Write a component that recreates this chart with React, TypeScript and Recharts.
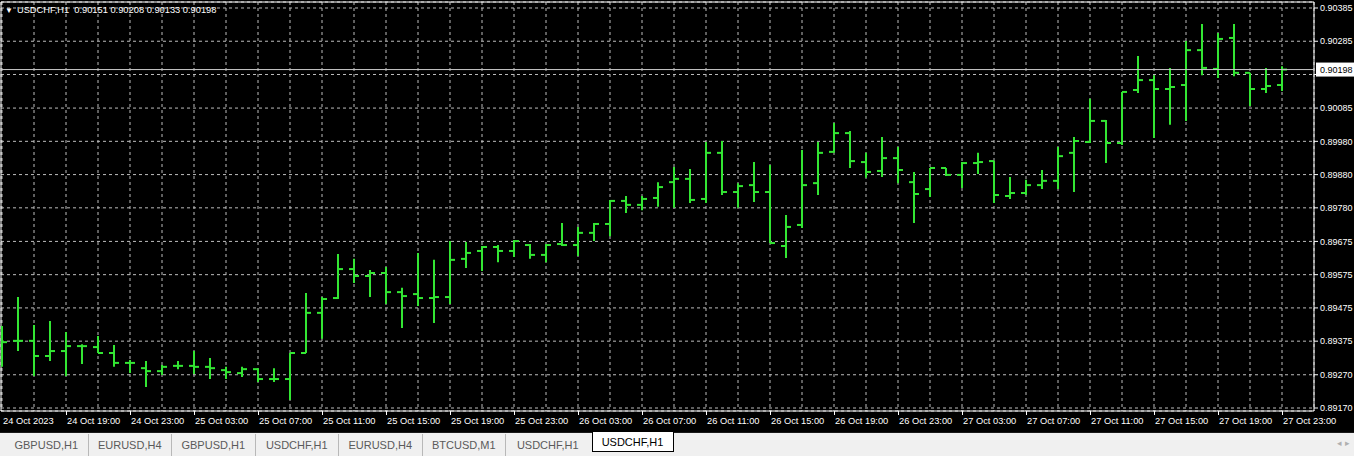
import React from 'react';
import { ComposedChart, Bar, XAxis, YAxis, CartesianGrid, ReferenceLine, ReferenceArea } from 'recharts';

// USDCHF H1, 24 Oct 15:00 .. 27 Oct 23:00 (one entry per hourly bar)
const opens = [
  0.89370, 0.89374, 0.89374, 0.89328, 0.89343, 0.89358, 0.89355, 0.89337, 0.89307, 0.89291,
  0.89282, 0.89298, 0.89298, 0.89295, 0.89285, 0.89276, 0.89288, 0.89258, 0.89258, 0.89337,
  0.89459, 0.89504, 0.89592, 0.89571, 0.89580, 0.89522, 0.89516, 0.89504, 0.89507, 0.89623,
  0.89647, 0.89659, 0.89647, 0.89665, 0.89635, 0.89668, 0.89665, 0.89702, 0.89729, 0.89799,
  0.89787, 0.89808, 0.89856, 0.89866, 0.89805, 0.89945, 0.89826, 0.89847, 0.89826, 0.89662,
  0.89726, 0.89853, 0.89948, 0.90005, 0.89917, 0.89890, 0.89929, 0.89856, 0.89835, 0.89899,
  0.89878, 0.89914, 0.89920, 0.89814, 0.89823, 0.89847, 0.89860, 0.89945, 0.89978, 0.90042,
  0.89975, 0.90136, 0.90166, 0.90139, 0.90151, 0.90257, 0.90200, 0.90294, 0.90188, 0.90139,
  0.90151,
];
const highs = [
  0.89419, 0.89507, 0.89422, 0.89434, 0.89401, 0.89364, 0.89389, 0.89361, 0.89316, 0.89313,
  0.89301, 0.89313, 0.89343, 0.89322, 0.89295, 0.89295, 0.89291, 0.89291, 0.89337, 0.89519,
  0.89507, 0.89638, 0.89623, 0.89589, 0.89598, 0.89535, 0.89641, 0.89620, 0.89677, 0.89674,
  0.89662, 0.89665, 0.89680, 0.89668, 0.89668, 0.89732, 0.89720, 0.89732, 0.89802, 0.89814,
  0.89814, 0.89856, 0.89902, 0.89896, 0.89978, 0.89981, 0.89853, 0.89917, 0.89908, 0.89756,
  0.89954, 0.89978, 0.90036, 0.90011, 0.89945, 0.89993, 0.89963, 0.89887, 0.89899, 0.89899,
  0.89917, 0.89945, 0.89920, 0.89872, 0.89863, 0.89893, 0.89963, 0.89993, 0.90109, 0.90045,
  0.90130, 0.90239, 0.90181, 0.90203, 0.90285, 0.90336, 0.90309, 0.90336, 0.90188, 0.90203,
  0.90208,
];
const lows = [
  0.89295, 0.89343, 0.89267, 0.89313, 0.89267, 0.89304, 0.89337, 0.89295, 0.89276, 0.89234,
  0.89270, 0.89288, 0.89273, 0.89258, 0.89258, 0.89264, 0.89249, 0.89249, 0.89194, 0.89337,
  0.89380, 0.89501, 0.89550, 0.89507, 0.89486, 0.89413, 0.89480, 0.89428, 0.89486, 0.89595,
  0.89586, 0.89613, 0.89629, 0.89623, 0.89613, 0.89662, 0.89632, 0.89677, 0.89692, 0.89762,
  0.89771, 0.89781, 0.89778, 0.89793, 0.89793, 0.89817, 0.89778, 0.89796, 0.89671, 0.89626,
  0.89717, 0.89817, 0.89945, 0.89899, 0.89869, 0.89872, 0.89853, 0.89732, 0.89811, 0.89875,
  0.89838, 0.89881, 0.89793, 0.89805, 0.89817, 0.89835, 0.89835, 0.89826, 0.89975, 0.89914,
  0.89969, 0.90127, 0.89990, 0.90030, 0.90042, 0.90181, 0.90172, 0.90178, 0.90087, 0.90127,
  0.90133,
];
const closes = [
  0.89370, 0.89374, 0.89328, 0.89343, 0.89358, 0.89358, 0.89337, 0.89307, 0.89307, 0.89282,
  0.89295, 0.89298, 0.89295, 0.89291, 0.89279, 0.89288, 0.89258, 0.89258, 0.89337, 0.89459,
  0.89501, 0.89592, 0.89571, 0.89580, 0.89522, 0.89510, 0.89504, 0.89507, 0.89620, 0.89641,
  0.89659, 0.89647, 0.89677, 0.89635, 0.89665, 0.89665, 0.89702, 0.89729, 0.89799, 0.89787,
  0.89805, 0.89841, 0.89866, 0.89802, 0.89945, 0.89826, 0.89844, 0.89826, 0.89671, 0.89720,
  0.89847, 0.89945, 0.90005, 0.89920, 0.89887, 0.89929, 0.89893, 0.89820, 0.89899, 0.89878,
  0.89914, 0.89917, 0.89817, 0.89823, 0.89847, 0.89860, 0.89935, 0.89981, 0.90042, 0.89975,
  0.90130, 0.90166, 0.90139, 0.90145, 0.90257, 0.90203, 0.90291, 0.90188, 0.90139, 0.90148,
  0.90198,
];

// one label every 4 bars
const timeLabels = [
  '24 Oct 2023', '24 Oct 19:00', '24 Oct 23:00', '25 Oct 03:00', '25 Oct 07:00', '25 Oct 11:00',
  '25 Oct 15:00', '25 Oct 19:00', '25 Oct 23:00', '26 Oct 03:00', '26 Oct 07:00', '26 Oct 11:00',
  '26 Oct 15:00', '26 Oct 19:00', '26 Oct 23:00', '27 Oct 03:00', '27 Oct 07:00', '27 Oct 11:00',
  '27 Oct 15:00', '27 Oct 19:00', '27 Oct 23:00',
];

const priceLevels = [
  0.90385, 0.90284, 0.90183, 0.90081, 0.89980, 0.89879, 0.89778,
  0.89676, 0.89575, 0.89474, 0.89373, 0.89271, 0.89170,
];
// the level under the bid label has no visible text
const priceLabels = [
  '0.90385', '0.90285', '', '0.90085', '0.89980', '0.89880', '0.89780',
  '0.89675', '0.89575', '0.89475', '0.89375', '0.89270', '0.89170',
];

const symbol = 'USDCHF,H1';
const lastPrice = 0.90198;
const tabs = ['GBPUSD,H1', 'EURUSD,H4', 'GBPUSD,H1', 'USDCHF,H1', 'EURUSD,H4', 'BTCUSD,M1', 'USDCHF,H1', 'USDCHF,H1'];

const GREEN = '#33e633';
const GRID = '#bdbdbd';
const FONT = '"Liberation Sans", Arial, sans-serif';

const yMin = 0.891609;
const yMax = 0.904032;
const xMin = -0.0625;
const xMax = 82;

const data = opens.map((o, i) => ({
  idx: i,
  open: o,
  high: highs[i],
  low: lows[i],
  close: closes[i],
  range: [lows[i], highs[i]],
}));

const xTicks = data.filter((d) => d.idx % 2 === 0).map((d) => d.idx);

const OhlcBar = (props: any) => {
  const { x, y, width, height, payload } = props;
  const top = Math.min(y, y + height);
  const bottom = Math.max(y, y + height);
  const { open, high, low, close } = payload;
  const span = high - low;
  const toY = (p: number) => (span > 0 ? top + ((high - p) / span) * (bottom - top) : top);
  const cx = Math.round(x + width / 2);
  const yo = toY(open);
  const yc = toY(close);
  return (
    <g stroke={GREEN} strokeWidth={2}>
      <line x1={cx} x2={cx} y1={top} y2={bottom} />
      <line x1={cx - 5} x2={cx} y1={yo} y2={yo} />
      <line x1={cx} x2={cx + 5} y1={yc} y2={yc} />
    </g>
  );
};

const TimeTick = (props: any) => {
  const { x, y, payload } = props;
  const i = payload.value;
  if (i % 4 !== 0) return <g />;
  return (
    <g>
      {i > 0 && <line x1={x + 0.5} x2={x + 0.5} y1={y} y2={y + 4} stroke="#fff" />}
      <text x={x + 1} y={y + 13} fill="#fff" fontSize={9.3} fontFamily={FONT} textAnchor="start">
        {timeLabels[i / 4]}
      </text>
    </g>
  );
};

const BidLabel = (props: any) => {
  const { viewBox } = props;
  const right = viewBox.x + viewBox.width;
  return (
    <g>
      <rect x={right + 2} y={viewBox.y - 7} width={38} height={14} fill="#fff" />
      <text x={right + 6} y={viewBox.y + 3.5} fill="#000" fontSize={9} fontFamily={FONT}>
        {lastPrice.toFixed(5)}
      </text>
    </g>
  );
};

export default function App() {
  return (
    <div style={{ position: 'absolute', left: 0, top: 0, width: 1354, height: 456, background: '#000', fontFamily: FONT }}>
      <ComposedChart
        width={1354}
        height={432}
        data={data}
        margin={{ top: 2, right: 0, left: 1, bottom: 0 }}
        style={{ background: '#000' }}
      >
        <CartesianGrid stroke={GRID} strokeDasharray="3 3" />
        <XAxis
          dataKey="idx"
          type="number"
          domain={[xMin, xMax]}
          allowDataOverflow
          ticks={xTicks}
          interval={0}
          height={21}
          axisLine={false}
          tickLine={false}
          tickSize={0}
          tickMargin={0}
          tick={<TimeTick />}
        />
        <YAxis
          orientation="right"
          type="number"
          domain={[yMin, yMax]}
          allowDataOverflow
          ticks={priceLevels}
          interval={0}
          width={40}
          axisLine={false}
          tickLine={{ stroke: '#fff' }}
          tickSize={4}
          tickMargin={2}
          tick={{ fill: '#fff', fontSize: 9, fontFamily: FONT }}
          tickFormatter={(v: number, i: number) => priceLabels[i]}
        />
        <ReferenceArea x1={xMin} x2={xMax} y1={yMin} y2={yMax} fill="none" stroke="#fff" strokeWidth={1} />
        <Bar dataKey="range" barSize={8} shape={<OhlcBar />} isAnimationActive={false} />
        <ReferenceLine y={lastPrice} stroke="#c8c8c8" strokeWidth={1} label={<BidLabel />} />
      </ComposedChart>

      <div style={{ position: 'absolute', left: 5, top: 4, color: '#fff', fontSize: 9.3, lineHeight: '12px', whiteSpace: 'pre' }}>
        <span style={{ fontSize: 8, marginRight: 4 }}>▼</span>
        {`${symbol}  ${opens[80].toFixed(5)} ${highs[80].toFixed(5)} ${lows[80].toFixed(5)} ${closes[80].toFixed(5)}`}
      </div>

      <div
        style={{
          position: 'absolute',
          left: 0,
          top: 432,
          width: 1354,
          height: 24,
          background: '#f0f0f0',
          borderTop: '1px solid #1a1a1a',
          boxSizing: 'border-box',
          display: 'flex',
          paddingLeft: 5,
          fontSize: 11,
        }}
      >
        {tabs.map((t, i) => {
          const active = i === tabs.length - 1;
          return (
            <div
              key={i}
              style={{
                width: active ? 82 : 83.5,
                height: active ? 20 : 22,
                boxSizing: 'border-box',
                display: 'flex',
                alignItems: 'center',
                justifyContent: 'center',
                color: active ? '#000' : '#5a5a5a',
                background: active ? '#fff' : 'transparent',
                border: active ? '1px solid #000' : 'none',
                borderTop: 'none',
                borderRight: active ? '1px solid #000' : i < tabs.length - 2 ? '1px solid #b8b8b8' : 'none',
                marginLeft: active ? 2 : 0,
                marginTop: active ? -1 : 1,
              }}
            >
              {t}
            </div>
          );
        })}
        <div style={{ position: 'absolute', right: 4, top: 5, color: '#b0b0b0', fontSize: 9 }}>◂ ▸</div>
      </div>
    </div>
  );
}
